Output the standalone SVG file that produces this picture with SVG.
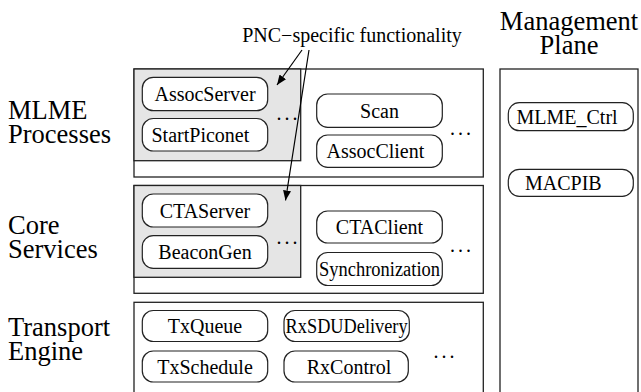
<svg xmlns="http://www.w3.org/2000/svg" width="641" height="392" viewBox="0 0 641 392">
<style>
text{font-family:'Liberation Serif','Times New Roman','DejaVu Serif',serif;fill:#000}
.lbl{font-size:26.5px}
.nt{font-size:20px}
.mid{text-anchor:middle}
.dots{font-size:20px;letter-spacing:3px}
.layer{fill:#fff;stroke:#222;stroke-width:1.3}
.shade{fill:#e5e5e5;stroke:#222;stroke-width:1.3}
.node{fill:#fff;stroke:#222;stroke-width:1.2}
.conn{stroke:#000;stroke-width:1.2;fill:none}
</style>
<defs>
<marker id="ah" viewBox="0 0 10 8" refX="10" refY="4" markerWidth="10" markerHeight="8" markerUnits="userSpaceOnUse" orient="auto">
<path d="M0,0 L10,4 L0,8 z" fill="#000"/>
</marker>
</defs>
<rect width="641" height="392" fill="#fff"/>

<g id="labels">
<text class="lbl" x="8" y="119">MLME</text>
<text class="lbl" x="8" y="143">Processes</text>
<text class="lbl" x="8" y="234">Core</text>
<text class="lbl" x="8" y="258">Services</text>
<text class="lbl" x="8" y="336">Transport</text>
<text class="lbl" x="8" y="360">Engine</text>
<text class="lbl mid" x="569" y="30">Management</text>
<text class="lbl mid" x="569" y="54">Plane</text>
<text class="nt mid" x="352" y="42">PNC−specific functionality</text>
</g>

<g id="layer-mlme">
<rect class="layer" x="134" y="69" width="349.3" height="108"/>
<rect class="shade" x="134" y="69" width="166.7" height="91.7"/>
<text class="dots" x="276.5" y="119.5">...</text>
<text class="dots" x="450" y="135">...</text>
</g>
<g id="layer-core">
<rect class="layer" x="134" y="185.5" width="349.3" height="107.8"/>
<rect class="shade" x="134" y="185.5" width="166.7" height="91.8"/>
<text class="dots" x="276.5" y="244">...</text>
<text class="dots" x="450" y="252">...</text>
</g>
<g id="layer-transport">
<rect class="layer" x="134" y="302.3" width="349.3" height="120"/>
<text class="dots" x="433.5" y="358">...</text>
</g>
<g id="management-plane">
<rect class="layer" x="500" y="69" width="138" height="360"/>
</g>

<g id="AssocServer"><rect class="node" x="142.3" y="77.3" width="125.4" height="33.4" rx="11"/><text class="nt mid" x="205" y="101">AssocServer</text></g>
<g id="StartPiconet"><rect class="node" x="142.3" y="118.5" width="125.4" height="32.5" rx="11"/><text class="nt" x="151.5" y="141.7">StartPiconet</text></g>
<g id="Scan"><rect class="node" x="316.7" y="94" width="125.6" height="33.3" rx="11"/><text class="nt mid" x="379.5" y="117.6">Scan</text></g>
<g id="AssocClient"><rect class="node" x="316.7" y="135" width="125.6" height="32.3" rx="11"/><text class="nt" x="326.5" y="158.1">AssocClient</text></g>

<g id="CTAServer"><rect class="node" x="142.3" y="194" width="125.4" height="33" rx="11"/><text class="nt mid" x="205" y="217.5">CTAServer</text></g>
<g id="BeaconGen"><rect class="node" x="142.3" y="235.7" width="125.4" height="32.6" rx="11"/><text class="nt mid" x="205" y="259">BeaconGen</text></g>
<g id="CTAClient"><rect class="node" x="316.7" y="211" width="125.6" height="32" rx="11"/><text class="nt mid" x="379.5" y="234">CTAClient</text></g>
<g id="Synchronization"><rect class="node" x="316.7" y="252.5" width="125.6" height="33" rx="11"/><text class="nt mid" x="379.5" y="276" textLength="121" lengthAdjust="spacingAndGlyphs">Synchronization</text></g>

<g id="TxQueue"><rect class="node" x="142.3" y="310.5" width="125.4" height="31" rx="11"/><text class="nt mid" x="205" y="333">TxQueue</text></g>
<g id="TxSchedule"><rect class="node" x="142.3" y="351" width="125.4" height="31" rx="11"/><text class="nt mid" x="205" y="373.5">TxSchedule</text></g>
<g id="RxSDUDelivery"><rect class="node" x="284" y="310.5" width="125.3" height="31" rx="11"/><text class="nt mid" x="346.6" y="333" textLength="122" lengthAdjust="spacingAndGlyphs">RxSDUDelivery</text></g>
<g id="RxControl"><rect class="node" x="284" y="351" width="124.3" height="31" rx="11"/><text class="nt mid" x="349" y="373.5">RxControl</text></g>

<g id="MLME_Ctrl"><rect class="node" x="508.3" y="102.7" width="125" height="28" rx="11"/><text class="nt" x="516.5" y="123.5">MLME_Ctrl</text></g>
<g id="MACPIB"><rect class="node" x="508.3" y="169.3" width="125" height="27" rx="11"/><text class="nt" x="525" y="189.5">MACPIB</text></g>

<g id="connectors">
<line class="conn" x1="302" y1="50" x2="277" y2="85" marker-end="url(#ah)"/>
<line class="conn" x1="309" y1="50" x2="285.5" y2="200.5" marker-end="url(#ah)"/>
</g>
</svg>
